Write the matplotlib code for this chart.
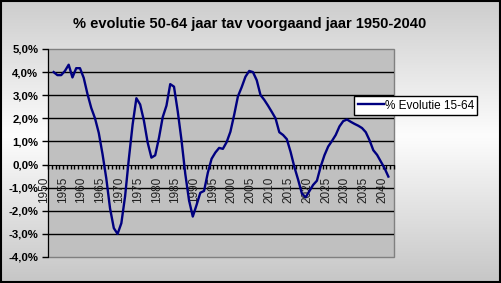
import numpy as np
import matplotlib
matplotlib.use("Agg")
import matplotlib.pyplot as plt
import matplotlib.transforms as mtransforms
from matplotlib.colors import LinearSegmentedColormap
from matplotlib.patches import Rectangle

plt.rcParams['font.family'] = ['Liberation Sans', 'DejaVu Sans']

# yearly growth of the 50-64 group, % vs previous year
years = list(range(1951, 2041))
evolutie = [
    4.00, 3.87, 3.87, 4.05, 4.32, 3.77, 4.17, 4.17, 3.75, 3.05,   # 1951-1960
    2.45, 2.00, 1.37, 0.45, -0.60, -1.90, -2.75, -3.00, -2.54, -1.37,  # 1961-1970
    0.25, 1.73, 2.87, 2.60, 1.90, 0.95, 0.30, 0.40, 1.15, 2.05,   # 1971-1980
    2.55, 3.48, 3.37, 2.30, 1.05, -0.40, -1.55, -2.25, -1.75, -1.22,  # 1981-1990
    -1.14, -0.35, 0.25, 0.52, 0.72, 0.68, 0.97, 1.42, 2.15, 2.95,  # 1991-2000
    3.35, 3.80, 4.05, 4.00, 3.65, 3.01, 2.80, 2.55, 2.28, 2.00,   # 2001-2010
    1.40, 1.28, 1.10, 0.55, -0.10, -0.65, -1.25, -1.42, -1.15, -0.88,  # 2011-2020
    -0.70, -0.09, 0.40, 0.78, 1.02, 1.28, 1.65, 1.88, 1.95, 1.85,  # 2021-2030
    1.76, 1.68, 1.58, 1.40, 1.05, 0.62, 0.42, 0.13, -0.16, -0.52,  # 2031-2040
]
label_years = list(range(1950, 2041, 5))
y_ticks = [-4, -3, -2, -1, 0, 1, 2, 3, 4, 5]

W, H = 501, 283
fig = plt.figure(figsize=(W / 100, H / 100), dpi=100)

# background gradient, light band through the middle
bg = fig.add_axes([0, 0, 1, 1], zorder=-10)
cmap = LinearSegmentedColormap.from_list(
    'bg', [(0.0, '#cdcdcd'), (0.48, '#fdfdfd'), (1.0, '#c6c6c6')])
bg.imshow(np.linspace(0, 1, 256).reshape(-1, 1), aspect='auto', cmap=cmap,
          extent=[0, 1, 0, 1])
bg.set_axis_off()
fig.patches.append(Rectangle((0.002, 0.003), 0.996, 0.994, transform=fig.transFigure,
                             fill=False, edgecolor='black', linewidth=1.5))

ax = fig.add_axes([48 / W, (H - 257) / H, 346 / W, 208 / H])
ax.set_facecolor('#c0c0c0')
ax.patch.set_edgecolor('#808080')
ax.patch.set_linewidth(1.0)

ax.plot(years, evolutie, color='#000080', linewidth=1.7, label='% Evolutie 15-64',
        zorder=3)

ax.set_xlim(1949.5, 2041.5)
ax.set_ylim(-4, 5)

for v in y_ticks[1:-1]:
    if v != 0:
        ax.axhline(v, color='black', linewidth=1.0, zorder=1)

for s in ['top', 'right']:
    ax.spines[s].set_visible(False)
ax.spines['left'].set_color('black')
ax.spines['bottom'].set_position(('data', 0))
ax.spines['bottom'].set_color('black')
ax.spines['bottom'].set_zorder(2)

ax.set_yticks(y_ticks)
ax.set_yticklabels([f"{v:.1f}%".replace('.', ',') for v in y_ticks],
                   fontsize=8.2, fontweight='bold')
ax.tick_params(axis='y', direction='out', length=4, width=1, pad=3)

# category boundaries get the small tick marks, labels every 5 years
ax.set_xticks(np.arange(1949.5, 2041.6, 1.0))
ax.set_xticklabels([])
ax.tick_params(axis='x', which='major', direction='out', length=3, width=1)
ax.set_xticks(label_years, minor=True)
ax.set_xticklabels([str(y) for y in label_years], minor=True, rotation=90,
                   fontsize=8.5, color='#202020')
ax.tick_params(axis='x', which='minor', length=0, pad=9)
shift = mtransforms.ScaledTranslation(-6 / 100, 0, fig.dpi_scale_trans)
for lab in ax.xaxis.get_minorticklabels():
    lab.set_transform(lab.get_transform() + shift)

fig.text(250 / W, 1 - 24 / H, '% evolutie 50-64 jaar tav voorgaand jaar 1950-2040',
         ha='center', va='center', fontsize=10.5, fontweight='bold')

leg = fig.legend(loc='upper left', bbox_to_anchor=(354 / W, 1 - 96 / H),
                 fontsize=8.5, frameon=True, fancybox=False, borderpad=0.3,
                 handlelength=2.2, handletextpad=0.1, borderaxespad=0)
leg.get_frame().set_edgecolor('black')
leg.get_frame().set_linewidth(1.0)
leg.get_frame().set_facecolor('white')
leg.get_frame().set_alpha(1)

fig.savefig('out.png', dpi=100)
